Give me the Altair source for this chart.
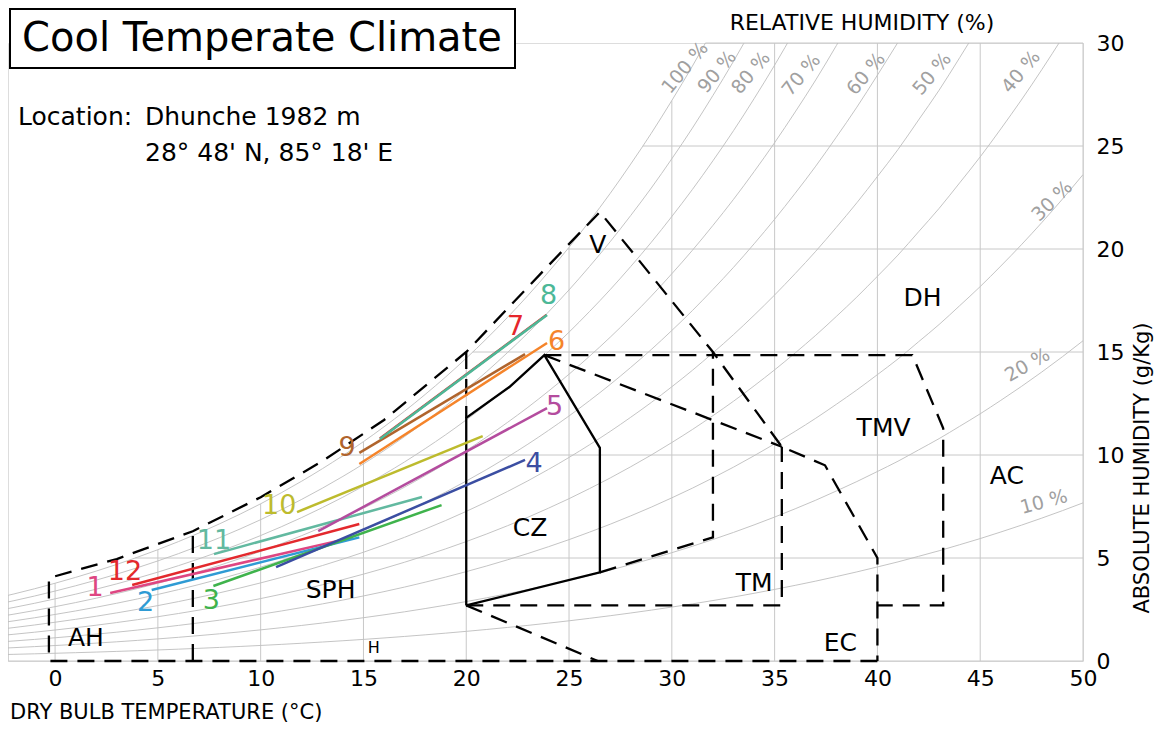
import altair as alt
import pandas as pd
import numpy as np

FONT = "DejaVu Sans"

# ---------------- data ----------------
# saturation vapour pressure table (kPa), dry-bulb -3..50 degC
T_TABLE = list(range(-3, 51))
PS_TABLE = [0.4898, 0.5275, 0.5679, 0.6113, 0.6571, 0.7060, 0.7581, 0.8135, 0.8726,
            0.9353, 1.0021, 1.0729, 1.1483, 1.2281, 1.3128, 1.4027, 1.4979, 1.5989,
            1.7057, 1.8187, 1.9377, 2.0647, 2.1978, 2.3392, 2.4877, 2.6452, 2.8104,
            2.9856, 3.1690, 3.3637, 3.5670, 3.7828, 4.0078, 4.2467, 4.4953, 4.7592,
            5.0335, 5.3246, 5.6280, 5.9476, 6.2795, 6.6331, 6.9969, 7.3838, 7.7784,
            8.2096, 8.6423, 9.1124, 9.5898, 10.099, 10.625, 11.177, 11.752, 12.352]
PRESSURE = 101.325
RH_LEVELS = [10, 20, 30, 40, 50, 60, 70, 80, 90, 100]
RH_LABEL_T = [48.1, 47.3, 48.5, 46.98, 42.66, 39.45, 36.3, 33.85, 32.2, 30.64]
RH_LABEL_W = [7.72, 14.37, 22.33, 28.6, 28.5, 28.5, 28.45, 28.55, 28.6, 28.8]
RH_LABEL_ANGLE = [345, 330, 315, 310, 310, 310, 310, 310, 310, 310]

X_MIN, X_MAX = -2.29, 50
GRID_T = [0, 5, 10, 15, 20, 25, 30, 35, 40, 45, 50]
GRID_W = [0, 5, 10, 15, 20, 25, 30]

# monthly lines (min temp -> max temp)
MONTHS = ["1", "2", "3", "4", "5", "6", "7", "8", "9", "10", "11", "12"]
M_T1 = [2.68, 4.7, 7.7, 10.75, 12.8, 14.8, 15.8, 15.8, 14.8, 11.77, 7.73, 3.75]
M_W1 = [3.3, 3.45, 3.64, 4.56, 6.3, 9.56, 10.8, 10.78, 10.1, 7.23, 5.19, 3.69]
M_T2 = [14.5, 14.8, 18.8, 22.86, 23.93, 23.93, 23.9, 23.93, 22.86, 20.8, 17.85, 14.8]
M_W2 = [6.0, 6.0, 7.57, 9.76, 12.28, 15.44, 16.8, 16.8, 14.9, 10.92, 7.96, 6.65]
M_LABEL_T = [1.95, 4.4, 7.6, 23.3, 24.3, 24.4, 22.4, 24.0, 14.2, 10.9, 7.73, 3.4]
M_LABEL_W = [3.54, 2.82, 2.9, 9.56, 12.33, 15.5, 16.2, 17.7, 10.34, 7.52, 5.83, 4.32]
M_COLORS = ["#de4682", "#2f9bd4", "#3fb34c", "#3b4ea2", "#b44c9e", "#f5842a",
            "#e6262c", "#4cb897", "#b0642c", "#bdbb2d", "#62b9a0", "#e3292d"]
DRAW_ORDER = ["1", "2", "3", "12", "11", "4", "5", "10", "7", "6", "9", "8"]

# zone boundaries (dashed)
DASH_PATHS = {
    "outer": ([40, -0.3, -0.3, 3, 6.7, 10, 13, 16, 20, 22, 24, 26.5, 32, 35.35, 37.45, 40, 40],
              [0, 0, 4.03, 4.95, 6.3, 7.95, 9.7, 11.7, 15.0, 17.1, 19.2, 21.8, 15.0, 10.4, 9.5, 5.0, 0]),
    "ah": ([6.7, 6.7], [0, 6.3]),
    "sph": ([20, 20], [15.0, 11.8]),
    "ec": ([20, 26.4], [2.7, 0]),
    "tm": ([20, 35.35, 35.35], [2.7, 2.7, 10.4]),
    "diag": ([23.8, 35.35], [14.85, 10.4]),
    "tmv": ([23.8, 41.7, 43.2, 43.2, 40], [14.85, 14.85, 11.3, 2.7, 2.7]),
    "dh": ([26.5, 32, 32], [4.3, 6.0, 15.0]),
}
CZ_T = [20, 20, 22.1, 23.8, 26.5, 26.5, 20]
CZ_W = [2.7, 11.8, 13.3, 14.85, 10.35, 4.3, 2.7]

ZONES = ["AH", "SPH", "CZ", "TM", "EC", "TMV", "DH", "AC", "V"]
ZONE_T = [1.5, 13.4, 23.1, 34.0, 38.2, 40.3, 42.2, 46.3, 26.4]
ZONE_W = [1.1, 3.45, 6.46, 3.79, 0.87, 11.3, 17.6, 9.0, 20.2]

# ---------------- derived tables ----------------
ps = np.array(PS_TABLE)
tt = np.array(T_TABLE, dtype=float)


def mix(phi):
    return 622.0 * phi * ps / (PRESSURE - phi * ps)


wsat = mix(1.0)

rh_rows = []
for rh in RH_LEVELS:
    w = mix(rh / 100.0)
    for t, v in zip(tt, w):
        rh_rows.append({"T": t, "w": v, "rh": rh})
        if v > 30:
            break
rh_df = pd.DataFrame(rh_rows)

grid_rows = []
for t in GRID_T:
    grid_rows.append({"T": t, "T2": t, "w": 0, "w2": min(float(np.interp(t, tt, wsat)), 30)})
for wv in GRID_W:
    t0 = X_MIN if wv == 0 else float(np.interp(wv, wsat, tt))
    grid_rows.append({"T": t0, "T2": 50, "w": wv, "w2": wv})
grid_rows.append({"T": X_MIN, "T2": X_MIN, "w": 0, "w2": float(np.interp(X_MIN, tt, wsat))})
grid_df = pd.DataFrame(grid_rows)

dash_rows = []
for name, (ts, ws) in DASH_PATHS.items():
    for i, (t, w) in enumerate(zip(ts, ws)):
        dash_rows.append({"T": t, "w": w, "path": name, "i": i})
dash_df = pd.DataFrame(dash_rows)
cz_df = pd.DataFrame({"T": CZ_T, "w": CZ_W, "i": list(range(len(CZ_T)))})

rhlab_df = pd.DataFrame({"T": RH_LABEL_T, "w": RH_LABEL_W,
                         "txt": [f"{r} %" for r in RH_LEVELS], "ang": RH_LABEL_ANGLE})
zone_df = pd.DataFrame({"T": ZONE_T, "w": ZONE_W, "txt": ZONES})

# ---------------- scales ----------------
xs = alt.Scale(domain=[X_MIN, X_MAX], nice=False, zero=False)
ys = alt.Scale(domain=[0, 30], nice=False)
xaxis = alt.Axis(values=GRID_T, labelFontSize=22, labelFont=FONT, labelColor="black",
                 domain=False, ticks=False, grid=False, title=None, labelPadding=7,
                 labelFlush=False, labelOverlap=False)
yaxis = alt.Axis(values=GRID_W, orient="right", labelFontSize=22, labelFont=FONT,
                 labelColor="black", domain=False, ticks=False, grid=False, title=None,
                 labelPadding=13, labelAlign="left", labelFlush=False, labelOverlap=False)
X = alt.X("T:Q", scale=xs, axis=xaxis)
Y = alt.Y("w:Q", scale=ys, axis=yaxis)
colscale = alt.Scale(domain=MONTHS, range=M_COLORS)

layers = []

layers.append(alt.Chart(grid_df).mark_rule(color="#c8c8c8", strokeWidth=1).encode(
    x=X, y=Y, x2="T2:Q", y2="w2:Q"))

layers.append(alt.Chart(rh_df).mark_line(color="#bdbdbd", strokeWidth=0.9, clip=True,
                                          interpolate="monotone").encode(
    x=X, y=Y, detail="rh:N", order="T:Q"))

layers.append(alt.Chart(rhlab_df).mark_text(font=FONT, fontSize=19, color="#a0a0a0",
                                            align="center", baseline="middle").encode(
    x=X, y=Y, text="txt:N", angle=alt.Angle("ang:Q", scale=None)))

layers.append(alt.Chart(dash_df).mark_line(color="black", strokeWidth=2.3,
                                           strokeDash=[17, 10]).encode(
    x=X, y=Y, detail="path:N", order="i:Q"))

layers.append(alt.Chart(cz_df).mark_line(color="black", strokeWidth=2.3).encode(
    x=X, y=Y, order="i:Q"))

for m in DRAW_ORDER:
    k = MONTHS.index(m)
    seg = pd.DataFrame({"T": [M_T1[k], M_T2[k]], "w": [M_W1[k], M_W2[k]], "m": [m, m]})
    layers.append(alt.Chart(seg).mark_line(strokeWidth=2.5).encode(
        x=X, y=Y, color=alt.Color("m:N", scale=colscale, legend=None)))

mlab_df = pd.DataFrame({"T": M_LABEL_T, "w": M_LABEL_W, "m": MONTHS})
layers.append(alt.Chart(mlab_df).mark_text(font=FONT, fontSize=27, align="center",
                                           baseline="middle").encode(
    x=X, y=Y, text="m:N", color=alt.Color("m:N", scale=colscale, legend=None)))

layers.append(alt.Chart(zone_df).mark_text(font=FONT, fontSize=25, color="black",
                                           align="center", baseline="middle").encode(
    x=X, y=Y, text="txt:N"))
layers.append(alt.Chart(pd.DataFrame({"T": [15.5], "w": [0.63], "txt": ["H"]})).mark_text(
    font=FONT, fontSize=16, color="black", align="center", baseline="middle").encode(
    x=X, y=Y, text="txt:N"))

# ---------------- annotations (pixel placed) ----------------
one = pd.DataFrame({"a": [0]})
layers.append(alt.Chart(one).mark_rect(fill="white", stroke="black", strokeWidth=2,
                                       clip=False).encode(
    x=alt.value(2), x2=alt.value(507), y=alt.value(-34), y2=alt.value(25)))


def txt(s, x, y, size, align="left", angle=0, color="black"):
    return alt.Chart(one).mark_text(text=s, font=FONT, fontSize=size, align=align,
                                    baseline="middle", angle=angle, color=color,
                                    clip=False).encode(x=alt.value(x), y=alt.value(y))


layers.append(txt("Cool Temperate Climate", 254, -4, 40, align="center"))
layers.append(txt("Location:", 10, 74, 25))
layers.append(txt("Dhunche 1982 m", 137, 74, 25))
layers.append(txt("28° 48' N, 85° 18' E", 137, 110, 25))
layers.append(txt("RELATIVE HUMIDITY (%)", 854, -20, 22, align="center"))
layers.append(txt("DRY BULB TEMPERATURE (°C)", 2, 670, 21))
layers.append(txt("ABSOLUTE HUMIDITY (g/Kg)", 1135, 425, 21, align="center", angle=270))

chart = alt.layer(*layers).properties(
    width=1075, height=618,
    padding={"left": 0, "top": 35, "right": 74, "bottom": 64},
    autosize=alt.AutoSizeParams(type="none"),
).configure_view(strokeWidth=0).configure(background="white")

chart.save("out.html", embed_options={"renderer": "svg", "actions": False})
